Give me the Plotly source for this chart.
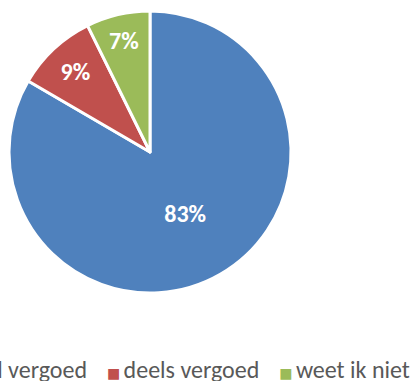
import plotly.graph_objects as go

labels = ["geheel vergoed", "deels vergoed", "weet ik niet"]
values = [83.4, 9.3, 7.3]
colors = ["#4F81BD", "#C0504D", "#9BBB59"]

W, H = 416, 381
FONT = "Carlito, Lato, sans-serif"

fig = go.Figure(go.Pie(
    labels=labels,
    values=values,
    sort=False,
    direction="clockwise",
    rotation=0,
    marker=dict(colors=colors, line=dict(color="white", width=3)),
    texttemplate="%{value:.0f}%",
    textposition="inside",
    insidetextorientation="horizontal",
    textfont=dict(family=FONT, size=24, color="white", weight="bold"),
    domain=dict(x=[9 / W, 291 / W], y=[1 - 293 / H, 1 - 11 / H]),
    hoverinfo="label+percent",
    showlegend=False,
))

# legend drawn as one text line (clipped at the left edge like the reference)
sq = '<span style="font-family:DejaVu Sans;font-size:14px;color:{c}">\u25A0</span>'
gap_in = '<span style="font-size:15px">\u00a0</span>'
gap_out = '<span style="font-size:22px">' + "\u00a0" * 4 + '</span>'
legend_text = gap_out.join(sq.format(c=c) + gap_in + lab for lab, c in zip(labels, colors))

fig.add_annotation(
    text=legend_text,
    xref="paper", yref="paper",
    x=412 / W, xanchor="right",
    y=1 - 369 / H, yanchor="middle",
    showarrow=False,
    font=dict(family=FONT, size=24, color="#595959"),
)

fig.update_layout(
    width=W, height=H,
    margin=dict(l=0, r=0, t=0, b=0, autoexpand=False),
    paper_bgcolor="white",
)

fig.write_html("out.html")
